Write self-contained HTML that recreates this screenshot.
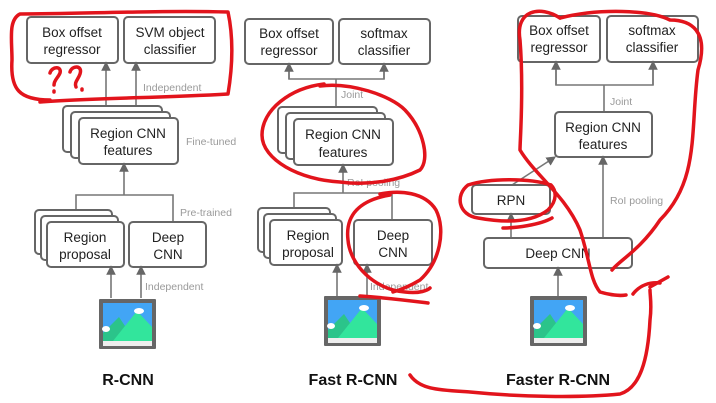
<!DOCTYPE html>
<html><head><meta charset="utf-8"><style>
html,body{margin:0;padding:0;background:#fff;}
svg{display:block}
text{font-family:"Liberation Sans",sans-serif;}
.b{fill:#fff;stroke:#666;stroke-width:2}
.t{font-size:13.5px;fill:#222;text-anchor:middle}
.g{font-size:10.5px;fill:#9a9a9a}
.l{stroke:#777;stroke-width:1.6;fill:none}
.r{stroke:#e2141c;stroke-width:3.5;fill:none;stroke-linecap:round;stroke-linejoin:round}
.h{font-size:16px;font-weight:bold;fill:#111;text-anchor:middle}
</style></head><body>
<svg width="716" height="403" viewBox="0 0 716 403" xmlns="http://www.w3.org/2000/svg">
<defs>
<marker id="a" markerWidth="6" markerHeight="6" refX="3" refY="3" orient="auto"><path d="M0,0 L6,3 L0,6 z" fill="#666"/></marker>
<g id="img">
<rect x="0" y="0" width="57" height="50" fill="#666" rx="1"/>
<rect x="4" y="4" width="49" height="38" fill="#42a5f5"/>
<rect x="4" y="42" width="49" height="5" fill="#eee"/>
<polygon points="4,42 4,34 20,18 36,42" fill="#2bc48a"/>
<polygon points="14,42 38,12 53,28 53,42" fill="#32e59c"/>
<ellipse cx="40" cy="12" rx="5" ry="3" fill="#fff"/>
<ellipse cx="7" cy="30" rx="4" ry="3" fill="#fff"/>
</g>
</defs>

<!-- R-CNN -->
<rect class="b" x="27" y="17" width="91" height="46" rx="4"/>
<text class="t" x="72" y="37">Box offset</text><text class="t" x="72" y="54">regressor</text>
<rect class="b" x="124" y="17" width="91" height="46" rx="4"/>
<text class="t" x="170" y="37">SVM object</text><text class="t" x="170" y="54">classifier</text>
<line class="l" x1="106" y1="107" x2="106" y2="66" marker-end="url(#a)"/>
<line class="l" x1="136" y1="107" x2="136" y2="66" marker-end="url(#a)"/>
<text class="g" x="143" y="91">Independent</text>
<rect class="b" x="63" y="106" width="99" height="46" rx="4"/>
<rect class="b" x="71" y="112" width="99" height="46" rx="4"/>
<rect class="b" x="79" y="118" width="99" height="46" rx="4"/>
<text class="t" x="128" y="138">Region CNN</text><text class="t" x="128" y="155">features</text>
<text class="g" x="186" y="145">Fine-tuned</text>
<polyline class="l" points="76,211 76,195 173,195 173,222"/>
<line class="l" x1="124" y1="195" x2="124" y2="167" marker-end="url(#a)"/>
<text class="g" x="180" y="216">Pre-trained</text>
<rect class="b" x="35" y="210" width="77" height="44" rx="4"/>
<rect class="b" x="41" y="216" width="77" height="44" rx="4"/>
<rect class="b" x="47" y="222" width="77" height="45" rx="4"/>
<text class="t" x="85" y="242">Region</text><text class="t" x="85" y="259">proposal</text>
<rect class="b" x="129" y="222" width="77" height="45" rx="4"/>
<text class="t" x="168" y="242">Deep</text><text class="t" x="168" y="259">CNN</text>
<line class="l" x1="111" y1="298" x2="111" y2="270" marker-end="url(#a)"/>
<line class="l" x1="141" y1="298" x2="141" y2="270" marker-end="url(#a)"/>
<text class="g" x="145" y="290">Independent</text>
<use href="#img" x="99" y="299"/>
<text class="h" x="128" y="385">R-CNN</text>

<!-- Fast R-CNN -->
<rect class="b" x="245" y="19" width="88" height="45" rx="4"/>
<text class="t" x="289" y="38">Box offset</text><text class="t" x="289" y="55">regressor</text>
<rect class="b" x="339" y="19" width="91" height="45" rx="4"/>
<text class="t" x="384" y="38">softmax</text><text class="t" x="384" y="55">classifier</text>
<polyline class="l" points="289,67 289,79 384,79 384,67"/>
<line class="l" x1="289" y1="79" x2="289" y2="67" marker-end="url(#a)"/>
<line class="l" x1="384" y1="79" x2="384" y2="67" marker-end="url(#a)"/>
<line class="l" x1="336" y1="79" x2="336" y2="106"/>
<text class="g" x="341" y="98">Joint</text>
<rect class="b" x="278" y="107" width="99" height="46" rx="4"/>
<rect class="b" x="286" y="113" width="99" height="46" rx="4"/>
<rect class="b" x="294" y="119" width="99" height="46" rx="4"/>
<text class="t" x="343" y="139">Region CNN</text><text class="t" x="343" y="157">features</text>
<polyline class="l" points="294,207 294,193 392,193 392,220"/>
<line class="l" x1="343" y1="193" x2="343" y2="168" marker-end="url(#a)"/>
<text class="g" x="347" y="186">RoI pooling</text>
<rect class="b" x="258" y="208" width="72" height="44" rx="4"/>
<rect class="b" x="264" y="214" width="72" height="44" rx="4"/>
<rect class="b" x="270" y="220" width="72" height="45" rx="4"/>
<text class="t" x="308" y="240">Region</text><text class="t" x="308" y="257">proposal</text>
<rect class="b" x="354" y="220" width="78" height="45" rx="4"/>
<text class="t" x="393" y="240">Deep</text><text class="t" x="393" y="257">CNN</text>
<line class="l" x1="337" y1="296" x2="337" y2="268" marker-end="url(#a)"/>
<line class="l" x1="367" y1="296" x2="367" y2="268" marker-end="url(#a)"/>
<text class="g" x="370" y="290">Independent</text>
<use href="#img" x="324" y="296"/>
<text class="h" x="353" y="385">Fast R-CNN</text>

<!-- Faster R-CNN -->
<rect class="b" x="518" y="16" width="82" height="46" rx="4"/>
<text class="t" x="559" y="35">Box offset</text><text class="t" x="559" y="52">regressor</text>
<rect class="b" x="607" y="16" width="91" height="46" rx="4"/>
<text class="t" x="652" y="35">softmax</text><text class="t" x="652" y="52">classifier</text>
<polyline class="l" points="556,66 556,85 653,85 653,66"/>
<line class="l" x1="556" y1="85" x2="556" y2="65" marker-end="url(#a)"/>
<line class="l" x1="653" y1="85" x2="653" y2="65" marker-end="url(#a)"/>
<line class="l" x1="604" y1="85" x2="604" y2="112"/>
<text class="g" x="610" y="105">Joint</text>
<rect class="b" x="555" y="112" width="97" height="45" rx="4"/>
<text class="t" x="603" y="132">Region CNN</text><text class="t" x="603" y="149">features</text>
<line class="l" x1="512" y1="185" x2="552" y2="159" marker-end="url(#a)"/>
<rect class="b" x="472" y="185" width="78" height="29" rx="4"/>
<text class="t" x="511" y="205">RPN</text>
<line class="l" x1="511" y1="238" x2="511" y2="217" marker-end="url(#a)"/>
<line class="l" x1="603" y1="238" x2="603" y2="160" marker-end="url(#a)"/>
<text class="g" x="610" y="204">RoI pooling</text>
<rect class="b" x="484" y="238" width="148" height="30" rx="4"/>
<text class="t" x="558" y="258">Deep CNN</text>
<line class="l" x1="558" y1="297" x2="558" y2="271" marker-end="url(#a)"/>
<use href="#img" x="530" y="296"/>
<text class="h" x="558" y="385">Faster R-CNN</text>

<!-- red annotations -->
<path class="r" d="M50,100 C20,100 10,90 12,60 C12,40 8,20 20,14 C80,14 160,10 228,12 C234,40 232,70 228,94 C160,98 90,98 40,102"/>
<path class="r" d="M50,73 C52,66 62,66 60,73 C58,78 54,80 54,85 M54,91 l0,1"/>
<path class="r" d="M70,72 C72,65 83,65 80,74 C78,80 74,82 76,87 M82,89 l0,1"/>
<path class="r" d="M324,84 C290,88 262,110 262,135 C262,160 300,180 340,182 C370,186 400,180 420,170 C430,160 424,130 405,110 C390,95 350,82 320,86"/>
<path class="r" d="M390,195 C360,200 345,215 348,240 C350,265 375,290 405,292 C420,294 428,290 430,288 M360,296 C390,298 420,302 428,303"/>
<path class="r" d="M380,194 C400,190 425,192 436,210 C446,230 440,262 420,280 C410,286 400,290 393,292"/>
<path class="r" d="M560,18 C540,5 515,10 520,40 C524,90 520,140 520,150 C535,175 565,195 580,230 C590,260 590,280 600,292 C610,295 620,296 626,295"/>
<path class="r" d="M560,18 C600,8 650,10 670,20 C690,20 710,30 698,70 C690,130 700,180 660,220 C640,250 620,260 612,270"/>
<path class="r" d="M551,185 C530,178 490,178 468,185 C455,195 458,215 478,218 C500,222 530,224 548,210 C558,200 556,190 551,185 M552,218 C540,225 515,228 503,228"/>
<path class="r" d="M410,375 C420,390 440,390 470,392 C520,397 580,398 620,394 C640,388 648,360 650,320 C652,305 650,296 650,290 M633,294 C640,285 650,282 660,283 M650,287 L668,277"/>
</svg>
</body></html>
